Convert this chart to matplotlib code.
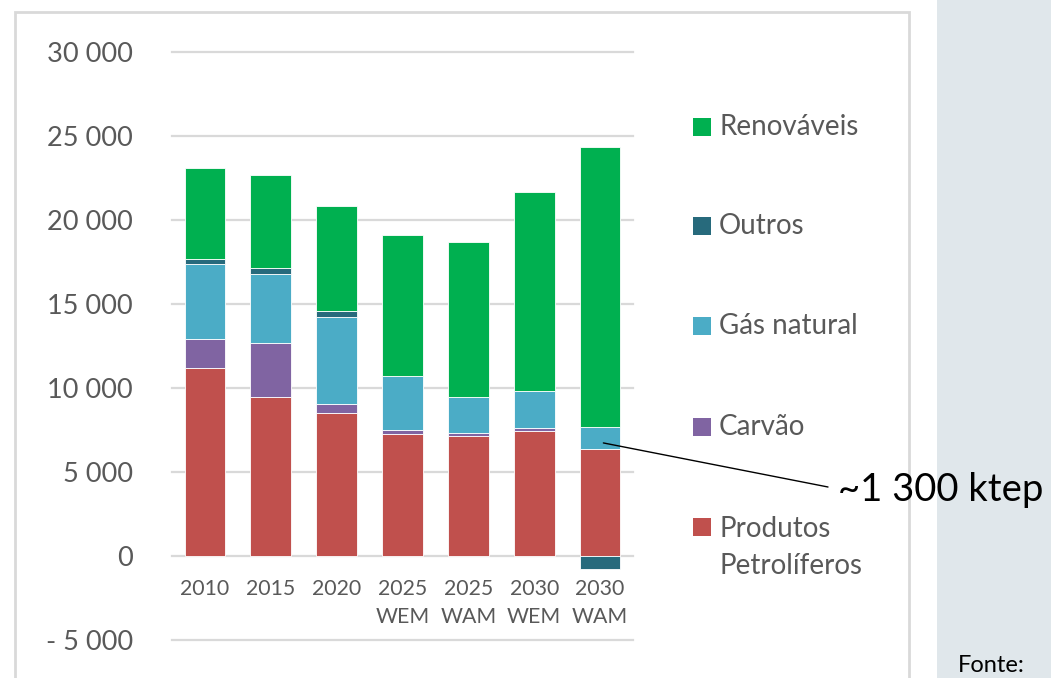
import matplotlib
matplotlib.use('Agg')
import matplotlib.pyplot as plt
from matplotlib.patches import Rectangle
import numpy as np

# Dados (ktep)
categorias = ['2010', '2015', '2020', '2025\nWEM', '2025\nWAM', '2030\nWEM', '2030\nWAM']
produtos = [11200, 9450, 8500, 7250, 7150, 7450, 6370]
carvao = [1720, 3230, 540, 250, 180, 180, 0]
gas = [4460, 4110, 5180, 3210, 2130, 2200, 1310]
outros = [300, 350, 350, 0, 0, 0, -750]
renovaveis = [5420, 5540, 6250, 8400, 9230, 11840, 16670]

nomes = ['Produtos\nPetrolíferos', 'Carvão', 'Gás natural', 'Outros', 'Renováveis']
cores = ['#C0504D', '#8064A2', '#4BACC6', '#276A7C', '#00B050']
yticks = [-5000, 0, 5000, 10000, 15000, 20000, 25000, 30000]

plt.rcParams['font.family'] = ['Lato', 'DejaVu Sans']
cinza = '#595959'

W, H = 1051, 678
fig = plt.figure(figsize=(W / 100, H / 100), dpi=100)

def fx(x):
    return x / W

def fy(y):
    return 1 - y / H

# Moldura do gráfico e painel lateral
fig.add_artist(Rectangle((fx(15), fy(700)), fx(909) - fx(15), fy(12) - fy(700),
                         transform=fig.transFigure, facecolor='white',
                         edgecolor='#d9d9d9', linewidth=2, zorder=0))
fig.add_artist(Rectangle((fx(937), 0), 1 - fx(937), 1, transform=fig.transFigure,
                         facecolor='#e0e7eb', edgecolor='none', zorder=0))

ax = fig.add_axes([fx(172), fy(640), fx(633) - fx(172), fy(52) - fy(640)])
ax.set_facecolor('none')

x = np.arange(len(categorias))
series = [produtos, carvao, gas, outros, renovaveis]
base_pos = np.zeros(len(categorias))
base_neg = np.zeros(len(categorias))
for vals, nome, cor in zip(series, nomes, cores):
    vals = np.array(vals, dtype=float)
    bottom = np.where(vals >= 0, base_pos, base_neg)
    ax.bar(x, vals, 0.62, bottom=bottom, color=cor, edgecolor='white',
           linewidth=0.6, label=nome, zorder=3)
    base_pos += np.where(vals >= 0, vals, 0)
    base_neg += np.where(vals < 0, vals, 0)

ax.set_xlim(-0.5, len(categorias) - 0.5)
ax.set_ylim(-5000, 30000)

ax.set_yticks(yticks)
ax.set_yticklabels([('- ' if v < 0 else '') + f'{abs(v):,}'.replace(',', ' ') for v in yticks])
ax.tick_params(axis='y', length=0, pad=28, labelsize=19.5, labelcolor=cinza)
ax.yaxis.grid(True, color='#d9d9d9', linewidth=1.6)
ax.set_axisbelow(True)
for gl in ax.get_ygridlines():
    gl.set_clip_on(False)

ax.spines['bottom'].set_position(('data', 0))
for s in ax.spines.values():
    s.set_visible(False)
ax.set_xticks(x)
ax.set_xticklabels(categorias, linespacing=1.5)
ax.tick_params(axis='x', length=0, pad=16.5, labelsize=15.3, labelcolor=cinza)

# Legenda manual (ordem invertida)
leg_y = [527, 427, 326, 226, 127]
for nome, cor, yy in zip(nomes, cores, leg_y):
    fig.add_artist(Rectangle((fx(693), fy(yy + 9)), 18 / W, 18 / H,
                             transform=fig.transFigure, facecolor=cor,
                             edgecolor='none'))
    if '\n' in nome:
        fig.text(fx(719), fy(yy - 11), nome, fontsize=20, color=cinza,
                 va='top', ha='left', linespacing=1.5)
    else:
        fig.text(fx(719), fy(yy), nome, fontsize=20, color=cinza,
                 va='center', ha='left')

# Anotação
ax.annotate('', xy=(6.05, 6730), xycoords='data',
            xytext=(828, H - 487), textcoords='figure pixels',
            arrowprops=dict(arrowstyle='-', color='black', lw=1,
                            shrinkA=0, shrinkB=0))
fig.text(fx(838), fy(490), '~1 300 ktep', fontsize=27.5, color='black',
         va='center', ha='left')

fig.text(fx(958), fy(666), 'Fonte:', fontsize=17, color='black',
         va='center', ha='left')

fig.savefig('out.png', dpi=100)
